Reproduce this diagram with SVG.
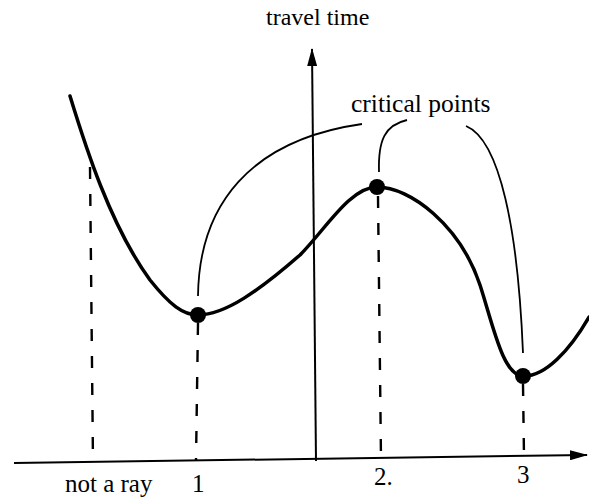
<svg xmlns="http://www.w3.org/2000/svg" width="589" height="501" viewBox="0 0 589 501">
<style>
text{font-family:"Liberation Serif","Times New Roman",serif;fill:#000}
.ax{stroke:#000;stroke-width:2;fill:none}
.cv{stroke:#000;stroke-width:3.5;fill:none;stroke-linecap:round}
.ld{stroke:#000;stroke-width:1.8;fill:none}
.ds{stroke:#000;stroke-width:2.4;stroke-dasharray:12 15;fill:none}
</style>
<defs>
<marker id="ah" viewBox="0 0 18 10" refX="17" refY="5" markerWidth="18" markerHeight="10" markerUnits="userSpaceOnUse" orient="auto">
<path d="M0,0 L18,5 L0,10 Z" fill="#000"/>
</marker>
</defs>
<g id="axes">
<line class="ax" x1="14" y1="463" x2="587" y2="455" marker-end="url(#ah)"/>
<line class="ax" x1="316" y1="461" x2="312" y2="49" marker-end="url(#ah)"/>
<text x="266" y="25" font-size="24">travel time</text>
</g>
<g id="dashes">
<line class="ds" x1="90" y1="167" x2="93" y2="462"/>
<line class="ds" x1="198" y1="323" x2="196" y2="461"/>
<line class="ds" x1="378" y1="196" x2="381" y2="459"/>
<line class="ds" x1="523" y1="384" x2="524" y2="456"/>
</g>
<g id="curve">
<path class="cv" d="M70,96 C85,145 110,225 150,280 C170,305 183,315 198,315 C225,315 260,290 300,255 C325,230 350,187 377,187 C410,187 460,225 480,285 C493,325 503,376 523,376 C545,377 570,350 589,317"/>
</g>
<g id="points">
<circle cx="198" cy="315" r="8"/>
<circle cx="377" cy="187" r="8"/>
<circle cx="523" cy="376" r="8"/>
</g>
<g id="connectors">
<path class="ld" d="M198,296 C199,205 250,140 362,124"/>
<path class="ld" d="M379,172 C378,140 385,125 407,120"/>
<path class="ld" d="M466,126 C500,140 518,230 523,353"/>
</g>
<g id="labels">
<text x="351" y="112" font-size="25.5">critical points</text>
<text x="65" y="492" font-size="25">not a ray</text>
<text x="192" y="492" font-size="25">1</text>
<text x="374" y="485" font-size="25">2.</text>
<text x="517" y="483" font-size="25">3</text>
</g>
</svg>
